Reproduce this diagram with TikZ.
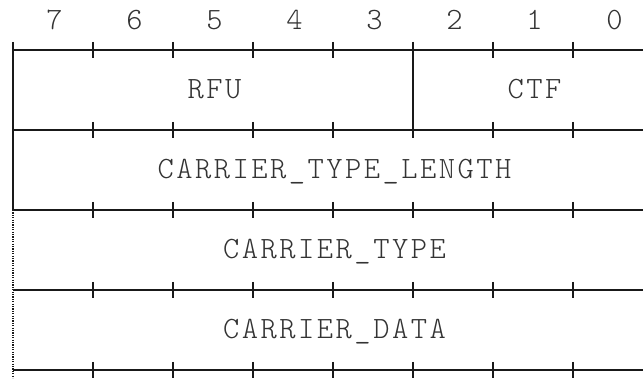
\documentclass[tikz,border=0pt]{standalone}
\usepackage{fontspec}
\newfontfamily\lblfont{lmmonolt10-regular}[Extension=.otf,LetterSpace=8]
\begin{document}
\begin{tikzpicture}[x=1pt,y=-1pt,
  rule/.style={line width=1.7pt,draw=black!90},
  dotrule/.style={line width=1.7pt,draw=black!90,dash pattern=on 1.2pt off 1.2pt},
  lbl/.style={font=\fontsize{31}{33}\selectfont\lblfont,text=black!80,inner sep=0pt,anchor=base,xshift=1.2pt},
  bitnum/.style={lbl}]
\useasboundingbox (0,0) rectangle (643,379);
% bit numbers
\foreach \b [count=\i from 0] in {7,6,5,4,3,2,1,0}
  \node[bitnum] (bit\b) at ({53.3+80*\i},30) {\b};
% horizontal rules with ticks
\foreach \y in {50,130,210,290,370}{
  \draw[rule] (13.3,\y) -- (643,\y);
  \foreach \k in {1,...,7}
    \draw[rule] ({13.3+80*\k},{\y-8}) -- ({13.3+80*\k},{\y+8});
}
% left border
\draw[rule] (13.3,42) -- (13.3,210);
\draw[dotrule] (13.3,210) -- (13.3,378);
% divider RFU | CTF
\draw[rule] (413.3,42) -- (413.3,138);
% field labels
\node[lbl] (rfu) at (213.3,98.5) {RFU};
\node[lbl] (ctf) at (533.3,98.5) {CTF};
\node[lbl] (ctl) at (333.3,178.5) {CARRIER\_TYPE\_LENGTH};
\node[lbl] (ct) at (333.3,258.5) {CARRIER\_TYPE};
\node[lbl] (cd) at (333.3,338.5) {CARRIER\_DATA};
\end{tikzpicture}
\end{document}
